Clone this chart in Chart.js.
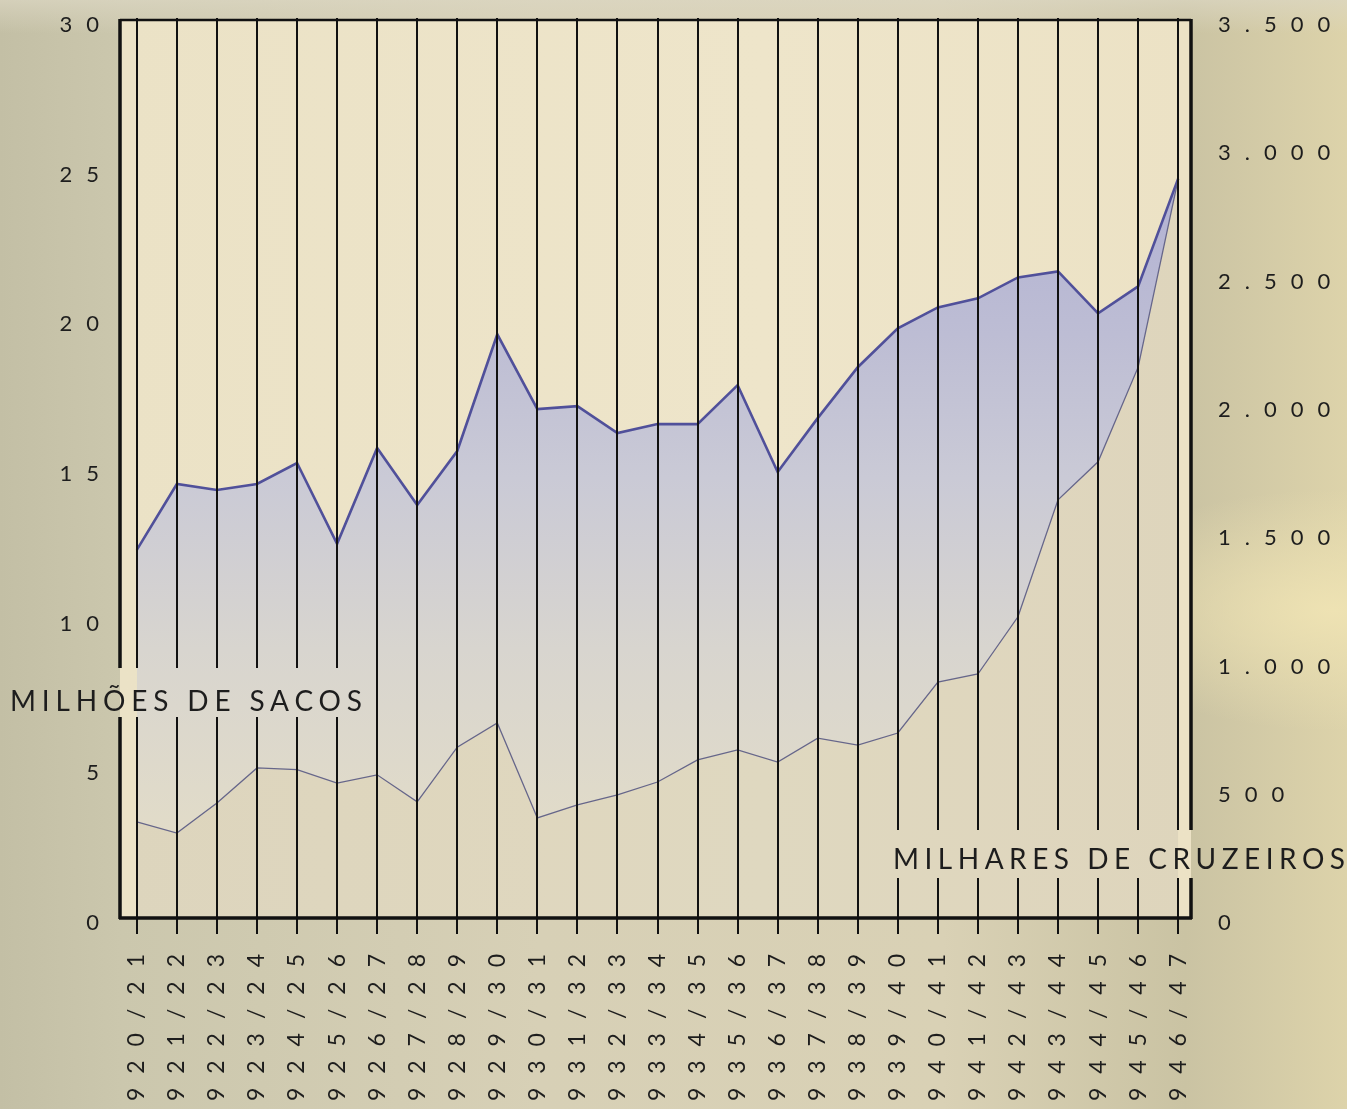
<!DOCTYPE html>
<html>
<head>
<meta charset="utf-8">
<script src="https://cdn.jsdelivr.net/npm/chart.js@4.4.1/dist/chart.umd.min.js"></script>
<style>
  html, body { margin: 0; padding: 0; overflow: hidden; }
  body {
    width: 1347px; height: 1109px;
    background:
      radial-gradient(ellipse at 99% 55%, rgba(240,228,180,0.9) 0%, rgba(240,228,180,0) 14%),
      linear-gradient(180deg, rgba(220,215,195,0.7) 0%, rgba(0,0,0,0) 3%),
      linear-gradient(90deg, #c3bfa5 0%, #cbc7ad 9%, #d7d0b6 40%, #d9d1b5 70%, #cac3a3 88%, #ddd3aa 100%);
  }
  #wrap { position: relative; width: 1347px; height: 1109px; }
</style>
</head>
<body>
<div id="wrap"><canvas id="myChart"></canvas></div>
<script>
const ctx = document.getElementById("myChart");

// safras
const safras = ['1920/21','1921/22','1922/23','1923/24','1924/25','1925/26','1926/27','1927/28','1928/29',
  '1929/30','1930/31','1931/32','1932/33','1933/34','1934/35','1935/36','1936/37','1937/38','1938/39',
  '1939/40','1940/41','1941/42','1942/43','1943/44','1944/45','1945/46','1946/47'];

// milhoes de sacos (eixo esquerdo)
const sacos = [12.3, 14.5, 14.3, 14.5, 15.2, 12.5, 15.7, 13.8, 15.6, 19.5, 17.0, 17.1, 16.2, 16.5,
  16.5, 17.8, 14.9, 16.7, 18.4, 19.7, 20.4, 20.7, 21.4, 21.6, 20.2, 21.1, 24.7];

// milhares de cruzeiros (eixo direito)
const cruzeiros = [375, 331, 448, 585, 578, 526, 558, 453, 666, 760, 390, 441, 480, 530, 616, 655,
  608, 701, 674, 721, 919, 951, 1174, 1630, 1778, 2147, 2880];

const ticksSacos = [0, 5, 10, 15, 20, 25, 30];
const ticksCruzeiros = [0, 500, 1000, 1500, 2000, 2500, 3000, 3500];

const FONT = 'Lato';
const INK = '#1d1d1d';
const SPACING = '14px';

function fmtMilhar(v) {
  if (v >= 1000) return Math.floor(v / 1000) + '.' + String(v % 1000).padStart(3, '0');
  return String(v);
}

// gaps where the drawn lines stop for the axis titles
const gaps = [
  { x0: 110, x1: 362, y0: 668, y1: 717 },
  { x0: 885, x1: 1347, y0: 830, y1: 878 }
];

function vline(c, x, y0, y1) {
  let segs = [[y0, y1]];
  gaps.forEach(g => {
    if (x < g.x0 || x > g.x1) return;
    const out = [];
    segs.forEach(([a, b]) => {
      if (g.y1 <= a || g.y0 >= b) { out.push([a, b]); return; }
      if (g.y0 > a) out.push([a, g.y0]);
      if (g.y1 < b) out.push([g.y1, b]);
    });
    segs = out;
  });
  segs.forEach(([a, b]) => { c.moveTo(x, a); c.lineTo(x, b); });
}

function spacedText(c, text, x, y, width, size) {
  c.save();
  c.font = size + 'px ' + FONT;
  c.letterSpacing = '0px';
  const w = c.measureText(text).width;
  const sp = (width - w) / (text.length - 1);
  c.letterSpacing = sp + 'px';
  c.fillStyle = INK;
  c.textAlign = 'left';
  c.textBaseline = 'alphabetic';
  c.fillText(text, x, y);
  c.restore();
}

function noPad(scale) {
  scale.paddingTop = 0;
  scale.paddingBottom = 0;
  scale.paddingLeft = 0;
  scale.paddingRight = 0;
}

const papel = {
  id: 'papel',
  beforeLayout: (chart) => { chart.ctx.letterSpacing = SPACING; },
  beforeDraw: (chart) => {
    const { ctx, chartArea: { top, left, width, height } } = chart;
    ctx.letterSpacing = SPACING;
    ctx.save();
    const g = ctx.createLinearGradient(left, 0, left + width, 0);
    g.addColorStop(0, '#ebe2c6');
    g.addColorStop(0.6, '#eee5ca');
    g.addColorStop(1, '#ece2c5');
    ctx.fillStyle = g;
    ctx.fillRect(left, top, width, height);
    ctx.restore();
  },
  afterDatasetsDraw: (chart) => {
    const { ctx, chartArea: { top, right, bottom, left }, scales: { x } } = chart;
    ctx.save();
    ctx.strokeStyle = '#111';
    ctx.lineWidth = 2;
    ctx.beginPath();
    safras.forEach((s, i) => vline(ctx, Math.round(x.getPixelForValue(i)), top - 2, bottom + 16));
    ctx.stroke();
    ctx.lineWidth = 3.5;
    ctx.beginPath();
    vline(ctx, left, top - 1, bottom + 1);
    vline(ctx, right, top - 1, bottom + 1);
    ctx.stroke();
    ctx.lineWidth = 2.5;
    ctx.beginPath(); ctx.moveTo(left, top); ctx.lineTo(right, top); ctx.stroke();
    ctx.lineWidth = 3.5;
    ctx.beginPath(); ctx.moveTo(left - 1, bottom); ctx.lineTo(right + 1, bottom); ctx.stroke();
    ctx.restore();
    spacedText(ctx, 'MILHÕES DE SACOS', 10, 711, 352, 28);
    spacedText(ctx, 'MILHARES DE CRUZEIROS', 893, 869, 452, 28);
  }
};

new Chart(ctx, {
  type: 'line',
  data: {
    datasets: [
      {
        label: 'Milhares de cruzeiros',
        data: cruzeiros.map((v, i) => ({ x: i, y: v })),
        yAxisID: 'y2',
        borderColor: '#66668a',
        borderWidth: 1.3,
        fill: 'origin',
        backgroundColor: 'rgba(150,148,140,0.16)',
        pointRadius: 0,
        tension: 0
      },
      {
        label: 'Milhões de sacos',
        data: sacos.map((v, i) => ({ x: i, y: v })),
        yAxisID: 'y',
        borderColor: '#50509a',
        borderWidth: 2.6,
        fill: '-1',
        backgroundColor: (c) => {
          const { ctx, chartArea } = c.chart;
          if (!chartArea) return 'rgba(190,190,212,0.9)';
          const g = ctx.createLinearGradient(0, chartArea.top, 0, chartArea.bottom);
          g.addColorStop(0.18, '#b2b2d3');
          g.addColorStop(0.35, '#bdbdd4');
          g.addColorStop(0.51, '#cacad6');
          g.addColorStop(0.7, '#d8d5cf');
          g.addColorStop(0.92, '#e2dcc8');
          return g;
        },
        pointRadius: 0,
        tension: 0
      }
    ]
  },
  options: {
    responsive: true,
    maintainAspectRatio: false,
    animation: false,
    layout: { padding: { top: 20, left: 0, right: 0, bottom: 0 } },
    plugins: {
      legend: { display: false },
      title: { display: false },
      tooltip: { enabled: false }
    },
    scales: {
      x: {
        type: 'linear',
        min: -0.42,
        max: 26.32,
        afterBuildTicks: (scale) => { scale.ticks = safras.map((s, i) => ({ value: i })); },
        afterFit: (scale) => { scale.height = 191; noPad(scale); },
        grid: { display: false, drawTicks: false },
        border: { display: false },
        ticks: {
          autoSkip: false,
          minRotation: 90,
          maxRotation: 90,
          padding: 22,
          color: INK,
          font: { family: FONT, size: 23 },
          callback: (v) => safras[v]
        }
      },
      y: {
        position: 'left',
        min: 0,
        max: 30,
        afterBuildTicks: (scale) => { scale.ticks = ticksSacos.map(v => ({ value: v })); },
        afterFit: (scale) => { scale.width = 120; noPad(scale); },
        grid: { display: false, drawTicks: false },
        border: { display: false },
        ticks: {
          padding: 7,
          labelOffset: 5,
          color: INK,
          font: { family: FONT, size: 22 }
        }
      },
      y2: {
        position: 'right',
        min: 0,
        max: 3500,
        afterBuildTicks: (scale) => { scale.ticks = ticksCruzeiros.map(v => ({ value: v })); },
        afterFit: (scale) => { scale.width = 156; noPad(scale); },
        grid: { display: false, drawTicks: false },
        border: { display: false },
        ticks: {
          padding: 27,
          labelOffset: 5,
          color: INK,
          font: { family: FONT, size: 22 },
          callback: (v) => fmtMilhar(v)
        }
      }
    }
  },
  plugins: [papel]
});
</script>
</body>
</html>
